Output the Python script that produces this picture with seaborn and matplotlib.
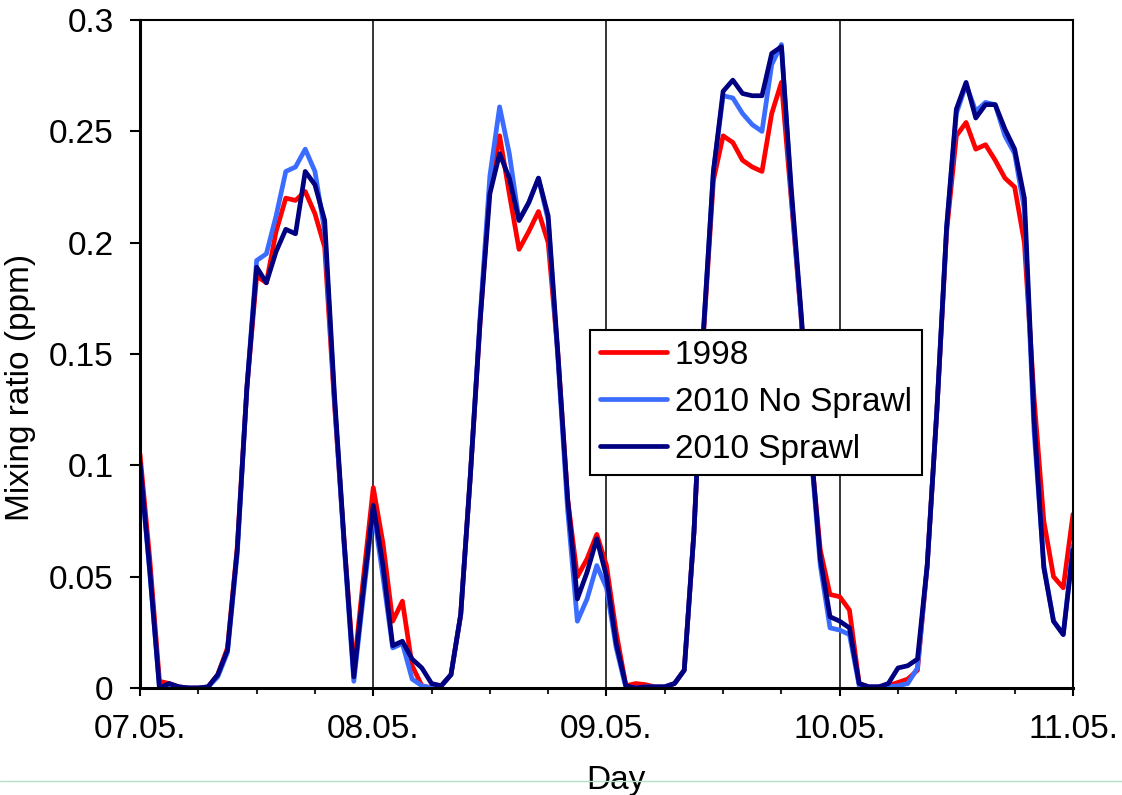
import numpy as np
import pandas as pd
import matplotlib
matplotlib.use("Agg")
import matplotlib.pyplot as plt
from matplotlib.lines import Line2D
from matplotlib.ticker import MultipleLocator, FuncFormatter
import seaborn as sns

# hourly values, 07.05. 00:00 to 11.05. 00:00
hours = list(range(97))

ozone_1998 = [
    0.105, 0.058, 0.003, 0.002, 0.0005, 0.0, 0.0, 0.0005, 0.006, 0.018,
    0.063, 0.135, 0.185, 0.182, 0.205, 0.220, 0.219, 0.223, 0.213, 0.198,
    0.128, 0.066, 0.008, 0.050, 0.090, 0.065, 0.030, 0.039, 0.010, 0.001,
    0.0, 0.001, 0.006, 0.033, 0.096, 0.165, 0.226, 0.248, 0.222, 0.197,
    0.205, 0.214, 0.200, 0.150, 0.085, 0.050, 0.058, 0.069, 0.055, 0.025,
    0.001, 0.002, 0.0015, 0.0005, 0.0005, 0.002, 0.008, 0.070, 0.160, 0.228,
    0.248, 0.245, 0.237, 0.234, 0.232, 0.258, 0.272, 0.220, 0.168, 0.108,
    0.062, 0.042, 0.041, 0.035, 0.002, 0.0005, 0.0005, 0.001, 0.0025, 0.004,
    0.008, 0.055, 0.125, 0.205, 0.248, 0.254, 0.242, 0.244, 0.237, 0.229,
    0.225, 0.200, 0.130, 0.075, 0.050, 0.045, 0.078,
]

ozone_2010_no_sprawl = [
    0.100, 0.052, 0.000, 0.001, 0.0005, 0.0, 0.0, 0.0005, 0.005, 0.016,
    0.060, 0.135, 0.192, 0.195, 0.212, 0.232, 0.234, 0.242, 0.232, 0.205,
    0.130, 0.064, 0.003, 0.042, 0.080, 0.050, 0.018, 0.020, 0.004, 0.001,
    0.0, 0.001, 0.006, 0.033, 0.096, 0.167, 0.230, 0.261, 0.240, 0.210,
    0.218, 0.229, 0.210, 0.148, 0.080, 0.030, 0.040, 0.055, 0.045, 0.018,
    0.0, 0.0, 0.0005, 0.0005, 0.0005, 0.002, 0.008, 0.070, 0.162, 0.232,
    0.266, 0.265, 0.258, 0.253, 0.250, 0.280, 0.289, 0.222, 0.168, 0.108,
    0.055, 0.027, 0.026, 0.024, 0.001, 0.0005, 0.0005, 0.0005, 0.001, 0.002,
    0.009, 0.055, 0.125, 0.207, 0.258, 0.271, 0.259, 0.263, 0.262, 0.248,
    0.240, 0.215, 0.115, 0.055, 0.030, 0.024, 0.064,
]

ozone_2010_sprawl = [
    0.101, 0.053, 0.0, 0.002, 0.0005, 0.0, 0.0, 0.0005, 0.006, 0.017,
    0.062, 0.135, 0.189, 0.182, 0.196, 0.206, 0.204, 0.232, 0.226, 0.210,
    0.132, 0.066, 0.005, 0.045, 0.082, 0.055, 0.019, 0.021, 0.013, 0.009,
    0.002, 0.001, 0.006, 0.033, 0.096, 0.165, 0.222, 0.240, 0.229, 0.210,
    0.218, 0.229, 0.212, 0.150, 0.085, 0.040, 0.052, 0.067, 0.050, 0.020,
    0.001, 0.0, 0.0005, 0.0005, 0.0005, 0.002, 0.008, 0.070, 0.162, 0.232,
    0.268, 0.273, 0.267, 0.266, 0.266, 0.285, 0.288, 0.225, 0.170, 0.110,
    0.058, 0.032, 0.030, 0.027, 0.002, 0.0005, 0.0005, 0.002, 0.009, 0.010,
    0.013, 0.055, 0.125, 0.207, 0.260, 0.272, 0.256, 0.262, 0.262, 0.251,
    0.242, 0.220, 0.120, 0.054, 0.030, 0.024, 0.062,
]

day_ticks = [0, 24, 48, 72, 96]
day_labels = ["07.05.", "08.05.", "09.05.", "10.05.", "11.05."]
scenarios = ["1998", "2010 No Sprawl", "2010 Sprawl"]
colors = {"1998": "#ff0000", "2010 No Sprawl": "#3a6cff", "2010 Sprawl": "#000080"}

df = pd.concat([
    pd.DataFrame({"hour": hours, "ratio": ozone_1998, "scenario": scenarios[0]}),
    pd.DataFrame({"hour": hours, "ratio": ozone_2010_no_sprawl, "scenario": scenarios[1]}),
    pd.DataFrame({"hour": hours, "ratio": ozone_2010_sprawl, "scenario": scenarios[2]}),
])

sns.set_theme(style="white")
plt.rcParams["font.family"] = ["Liberation Sans", "DejaVu Sans"]
plt.rcParams["text.color"] = "black"
fs = 24

fig = plt.figure(figsize=(11.22, 7.95), dpi=100)
ax = fig.add_axes([0.1248, 0.1346, 0.8315, 0.8402])

sns.lineplot(data=df, x="hour", y="ratio", hue="scenario", hue_order=scenarios,
             palette=colors, linewidth=3.4, ax=ax)
for line in ax.get_lines():
    line.set_solid_joinstyle("round")
    line.set_solid_capstyle("round")

ax.set_xlim(0, 96)
ax.set_ylim(0, 0.3)
ax.set_xticks(day_ticks)
ax.set_xticklabels(day_labels)
ax.xaxis.set_minor_locator(MultipleLocator(6))
ax.yaxis.set_major_locator(MultipleLocator(0.05))
ax.yaxis.set_major_formatter(FuncFormatter(lambda v, p: "%g" % round(v, 3)))

ax.tick_params(axis="x", which="major", direction="out", length=6, width=1.5,
               labelsize=fs, pad=13, bottom=True, colors="black")
ax.tick_params(axis="x", which="minor", direction="out", length=4, width=1.5, bottom=True)
ax.tick_params(axis="y", direction="out", length=7, width=1.5, labelsize=fs,
               pad=12, left=True, colors="black")

ax.grid(False)
for x in day_ticks[1:-1]:
    ax.axvline(x, color="black", lw=1.1, zorder=0)

for side in ["left", "bottom"]:
    ax.spines[side].set_linewidth(2.2)
for side in ["top", "right"]:
    ax.spines[side].set_linewidth(1.5)
for s in ax.spines.values():
    s.set_color("black")

ax.set_xlabel("Day", fontsize=fs, color="black")
ax.set_ylabel("Mixing ratio (ppm)", fontsize=fs, color="black")
ax.xaxis.set_label_coords(0.51, -0.115)
ax.yaxis.set_label_coords(-0.112, 0.45)

leg = ax.legend(loc="upper left", bbox_to_anchor=(0.4823, 0.536), fontsize=fs,
                frameon=True, fancybox=False, framealpha=1, edgecolor="black",
                borderpad=0.3, borderaxespad=0, handlelength=2.0,
                handletextpad=0.25, labelspacing=0.48)
leg.get_frame().set_linewidth(1.5)
for line in leg.get_lines():
    line.set_linewidth(3.4)
for t in leg.get_texts():
    t.set_color("black")

fig.add_artist(Line2D([0, 1], [1 - 781 / 795, 1 - 781 / 795], color="#b5e0c8", lw=1,
                      transform=fig.transFigure))

fig.savefig("out.png", dpi=100)
